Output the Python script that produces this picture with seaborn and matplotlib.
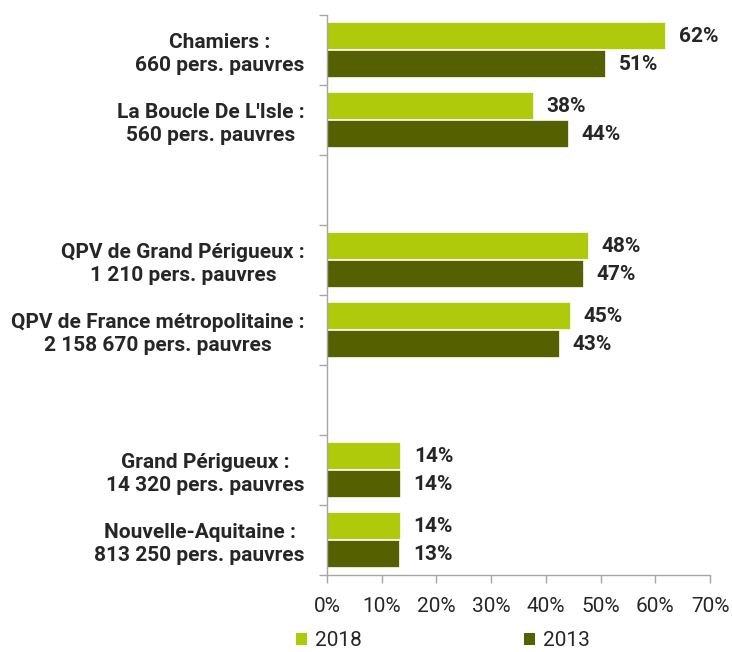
import matplotlib
matplotlib.use("Agg")
import matplotlib.pyplot as plt
import seaborn as sns
import pandas as pd
import numpy as np
from matplotlib.patches import Patch

sns.set_theme(style="white")
plt.rcParams['font.family'] = ['Roboto', 'DejaVu Sans']

categories = ["Chamiers :\n660 pers. pauvres",
              "La Boucle De L'Isle :\n560 pers. pauvres",
              " ",
              "QPV de Grand Périgueux :\n1 210 pers. pauvres",
              "QPV de France métropolitaine :\n2 158 670 pers. pauvres",
              "  ",
              "Grand Périgueux :\n14 320 pers. pauvres",
              "Nouvelle-Aquitaine :\n813 250 pers. pauvres"]
data_cats = [categories[i] for i in (0, 1, 3, 4, 6, 7)]
values_2018 = [62.0, 37.8, 47.9, 44.6, 13.6, 13.5]
values_2013 = [51.0, 44.2, 47.0, 42.6, 13.5, 13.4]
labels_2018 = ["62%", "38%", "48%", "45%", "14%", "14%"]
labels_2013 = ["51%", "44%", "47%", "43%", "14%", "13%"]
years = ["2018", "2013"]
colors = {"2018": "#AFCA0B", "2013": "#556000"}
text_color = "#262626"
axis_color = "#A6A6A6"

df = pd.DataFrame({
    "cat": data_cats * 2,
    "year": ["2018"] * 6 + ["2013"] * 6,
    "val": values_2018 + values_2013,
})

fig = plt.figure(figsize=(7.32, 6.52), dpi=100)
ax = fig.add_axes([327/732, 1 - 575/652, (710-327)/732, (575-15)/652])

sns.barplot(data=df, y="cat", x="val", hue="year", order=categories,
            hue_order=years, palette=colors, orient="h", width=0.8,
            saturation=1, edgecolor="white", linewidth=1.2, ax=ax, legend=False)

# value labels
for ci, cont in enumerate(ax.containers):
    labs = labels_2018 if ci == 0 else labels_2013
    for bar, lab in zip(cont, labs):
        w = bar.get_width()
        y = bar.get_y() + bar.get_height() / 2
        ax.annotate(lab, (w, y), xytext=(9, 0), textcoords="offset points",
                    va="center", ha="left", fontsize=15, fontweight="bold",
                    color=text_color)

ax.set_xlim(0, 70)
ax.set_ylim(len(categories) - 0.5, -0.5)
ax.set_xticks(np.arange(0, 71, 10))
ax.set_xticklabels([f"{v}%" for v in range(0, 71, 10)], fontsize=15, color=text_color)

# y: boundary ticks (major) and centered labels (minor)
ax.set_yticks(np.arange(-0.5, len(categories), 1.0))
ax.set_yticklabels([])
ax.set_yticks(np.arange(len(categories)), minor=True)
ax.set_yticklabels(categories, minor=True, fontsize=15, fontweight="bold",
                   color=text_color, multialignment="center", linespacing=1.25)
ax.tick_params(axis="y", which="minor", length=0, pad=16)
ax.tick_params(axis="y", which="major", length=6, color=axis_color, width=1, left=True)
ax.tick_params(axis="x", length=6, color=axis_color, width=1, bottom=True, pad=10)
ax.set_xlabel("")
ax.set_ylabel("")

for side in ["top", "right"]:
    ax.spines[side].set_visible(False)
for side in ["left", "bottom"]:
    ax.spines[side].set_visible(True)
    ax.spines[side].set_color(axis_color)
    ax.spines[side].set_linewidth(1)

handles = [Patch(facecolor=colors[y], edgecolor="none", label=y) for y in years]
leg = fig.legend(handles=handles, loc="center", bbox_to_anchor=(443/732, 1 - 641/652),
                 ncol=2, frameon=False, fontsize=15, handlelength=0.5,
                 handleheight=0.5, handletextpad=0.4, columnspacing=7.8)
for t in leg.get_texts():
    t.set_color(text_color)

fig.savefig("out.png", dpi=100)
